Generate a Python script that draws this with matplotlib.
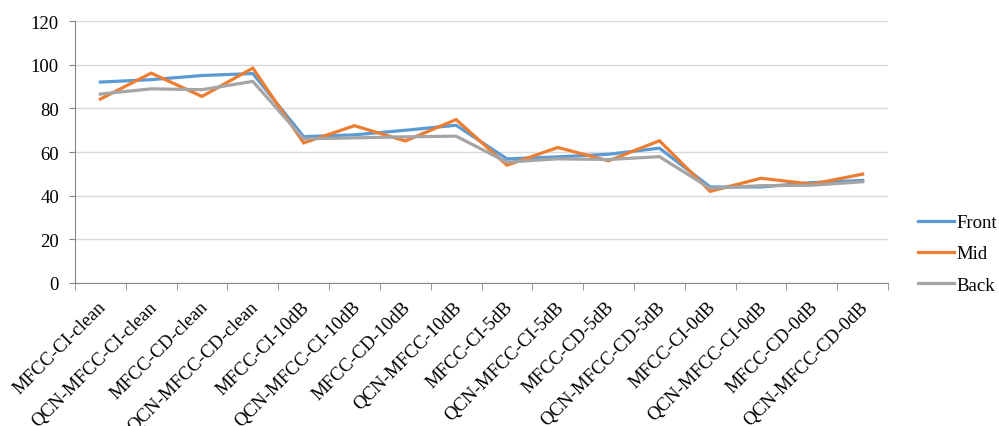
import matplotlib

matplotlib.use("Agg")
import matplotlib.pyplot as plt
import matplotlib.transforms as mtransforms
import numpy as np
from matplotlib.ticker import FixedLocator, MultipleLocator

categories = [
    "MFCC-CI-clean", "QCN-MFCC-CI-clean", "MFCC-CD-clean", "QCN-MFCC-CD-clean",
    "MFCC-CI-10dB", "QCN-MFCC-CI-10dB", "MFCC-CD-10dB", "QCN-MFCC-10dB",
    "MFCC-CI-5dB", "QCN-MFCC-CI-5dB", "MFCC-CD-5dB", "QCN-MFCC-CD-5dB",
    "MFCC-CI-0dB", "QCN-MFCC-CI-0dB", "MFCC-CD-0dB", "QCN-MFCC-CD-0dB",
]
front = [92.1, 93.2, 95.1, 96.0, 67.1, 67.9, 70.0, 72.3,
         56.9, 57.8, 59.0, 61.8, 44.0, 44.0, 46.0, 47.0]
mid = [84.3, 96.2, 85.5, 98.5, 64.2, 72.1, 65.1, 74.9,
       54.0, 62.1, 56.0, 65.2, 42.0, 48.0, 45.3, 49.9]
back = [86.6, 89.0, 88.6, 92.4, 66.1, 66.5, 67.0, 67.3,
        55.4, 56.9, 56.6, 57.9, 43.4, 44.6, 44.8, 46.4]

series = [("Front", front, "#5B9BD5"), ("Mid", mid, "#ED7D31"), ("Back", back, "#A5A5A5")]

plt.rcParams["font.family"] = ["Liberation Serif", "DejaVu Serif"]
FS = 13.5

fig = plt.figure(figsize=(9.99, 4.27), dpi=100)
ax = fig.add_axes([0.075, 0.335, 0.814, 0.613])

x = np.arange(len(categories))
for name, vals, color in series:
    ax.plot(x, vals, color=color, lw=2.3, label=name, solid_joinstyle="miter")

ax.set_xlim(-0.5, len(categories) - 0.5)
ax.set_ylim(0, 120)
ax.yaxis.set_major_locator(MultipleLocator(20))
ax.grid(axis="y", color="#D9D9D9", lw=1)
ax.set_axisbelow(True)

# category labels sit between the boundary ticks
ax.set_xticks(x)
ax.set_xticklabels(categories, rotation=45, ha="right", va="top",
                   rotation_mode="anchor", fontsize=FS)
ax.tick_params(axis="x", which="major", length=0, pad=0)
ax.xaxis.set_minor_locator(FixedLocator(np.arange(-0.5, len(categories), 1)))
ax.tick_params(axis="x", which="minor", length=5, color="#868686", direction="out")
ax.tick_params(axis="y", length=4.5, color="#868686", labelsize=FS, pad=7)
shift = mtransforms.ScaledTranslation(-3 / 100, -15 / 100, fig.dpi_scale_trans)
for lab in ax.get_xticklabels():
    lab.set_transform(lab.get_transform() + shift)

for side in ("top", "right"):
    ax.spines[side].set_visible(False)
for side in ("left", "bottom"):
    ax.spines[side].set_color("#868686")

fig.legend(loc="center left", bbox_to_anchor=(0.902, 0.403), frameon=False,
           fontsize=FS, handlelength=1.9, handletextpad=0.15, labelspacing=0.75)

fig.savefig("out.png", dpi=100)
